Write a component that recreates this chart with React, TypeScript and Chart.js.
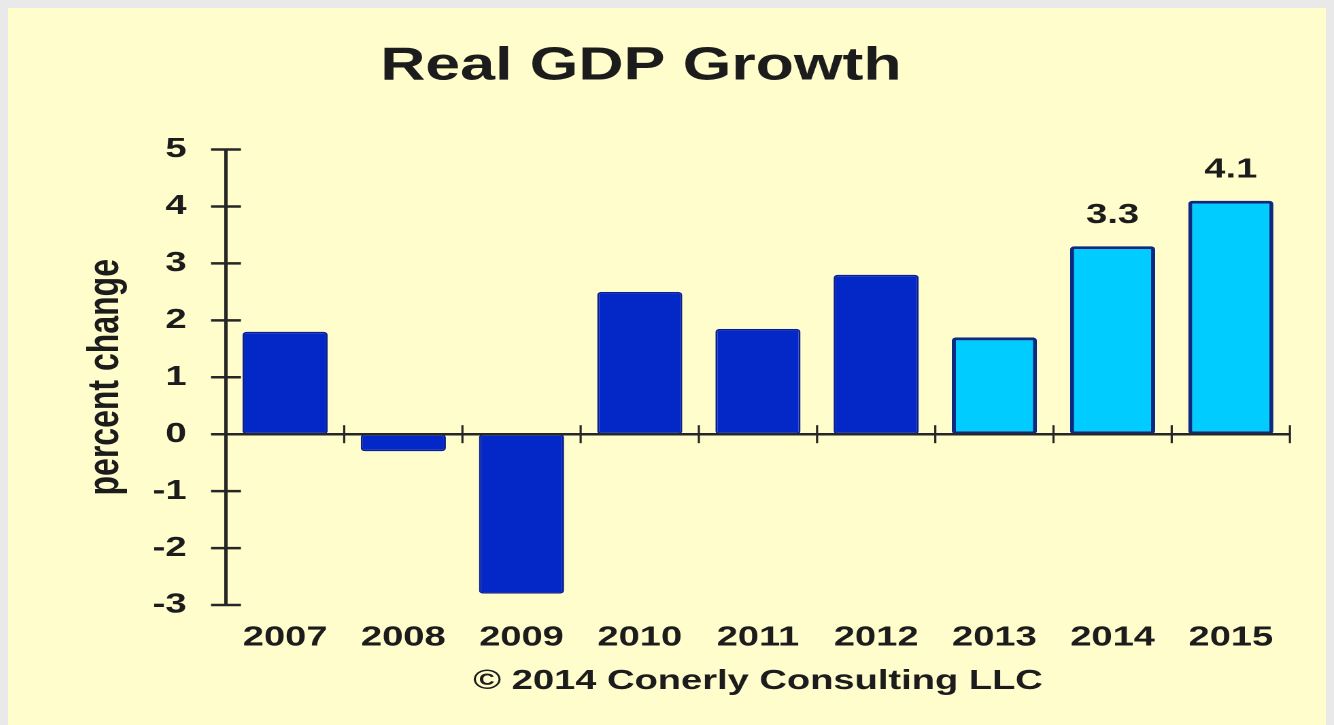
import { useEffect, useRef } from 'react';
import { Chart, registerables } from 'chart.js';

Chart.register(...registerables);

// ---- data ----
const years = ['2007', '2008', '2009', '2010', '2011', '2012', '2013', '2014', '2015'];
const growth = [1.8, -0.3, -2.8, 2.5, 1.85, 2.8, 1.7, 3.3, 4.1];
const forecastYears = ['2013', '2014', '2015'];
const valueLabels = ['', '', '', '', '', '', '', '3.3', '4.1'];
const yMin = -3;
const yMax = 5;
const titleText = 'Real GDP Growth';
const yTitleText = 'percent change';
const creditText = '© 2014 Conerly Consulting LLC';

// ---- styles ----
const FONT = '"Liberation Sans", Arial, Helvetica, sans-serif';
const TEXT = '#1c1c1c';
const AXIS = '#262626';
const BG = '#FFFDCC';
const HIST_FILL = '#0428C8';
const HIST_BORDER = '#0A1E90';
const FC_FILL = '#00CCFF';
const FC_BORDER = '#0B2A82';

// logical canvas width is stretched horizontally to the page width
const LOGICAL_W = 975;
const H = 717;
const PAGE_W = 1326;

const crossTicks = {
  id: 'crossTicks',
  afterDraw(chart: any) {
    const { ctx, chartArea, scales } = chart;
    const y = scales.y;
    const x = scales.x;
    ctx.save();
    ctx.strokeStyle = AXIS;
    // y-axis ticks crossing the axis
    ctx.lineWidth = 2.5;
    y.ticks.forEach((t: any) => {
      const py = y.getPixelForValue(t.value);
      ctx.beginPath();
      ctx.moveTo(chartArea.left - 11, py);
      ctx.lineTo(chartArea.left + 11, py);
      ctx.stroke();
    });
    // category boundary ticks crossing the zero line
    const y0 = y.getPixelForValue(0);
    ctx.lineWidth = 1.6;
    for (let i = 1; i <= years.length; i++) {
      const px = x.getPixelForValue(i - 0.5);
      ctx.beginPath();
      ctx.moveTo(px, y0 - 9);
      ctx.lineTo(px, y0 + 9);
      ctx.stroke();
    }
    ctx.restore();
  },
};

const barValueLabels = {
  id: 'barValueLabels',
  afterDatasetsDraw(chart: any) {
    const { ctx } = chart;
    const meta = chart.getDatasetMeta(0);
    ctx.save();
    ctx.fillStyle = TEXT;
    ctx.font = `bold 28px ${FONT}`;
    ctx.textAlign = 'center';
    ctx.textBaseline = 'middle';
    meta.data.forEach((bar: any, i: number) => {
      const label = valueLabels[i];
      if (!label) return;
      ctx.fillText(label, bar.x, bar.y - 31);
    });
    ctx.restore();
  },
};

export default function App() {
  const ref = useRef<HTMLCanvasElement | null>(null);

  useEffect(() => {
    document.body.style.overflow = 'hidden';
    document.body.style.background = '#e9e9e9';
    if (!ref.current) return;
    const isForecast = years.map((yr) => forecastYears.includes(yr));
    const chart = new Chart(ref.current, {
      type: 'bar',
      data: {
        labels: years,
        datasets: [
          {
            data: growth,
            backgroundColor: isForecast.map((f) => (f ? FC_FILL : HIST_FILL)),
            borderColor: isForecast.map((f) => (f ? FC_BORDER : HIST_BORDER)),
            borderWidth: isForecast.map((f) => (f ? 3 : 1.5)),
            borderSkipped: false,
            borderRadius: 3,
            barPercentage: 0.72,
            categoryPercentage: 1,
          },
        ],
      },
      options: {
        animation: false,
        responsive: false,
        devicePixelRatio: 2,
        layout: { padding: { left: -11.8, right: 32.4, top: 0, bottom: 0 } },
        plugins: {
          legend: { display: false },
          tooltip: { enabled: false },
          title: {
            display: true,
            text: titleText,
            color: TEXT,
            font: { family: FONT, size: 46, weight: 'bold' },
            padding: { top: 31, bottom: 55.3 },
          },
        },
        scales: {
          x: {
            type: 'category',
            position: 'bottom',
            offset: true,
            grid: { display: false, drawTicks: false, offset: true },
            border: { display: false },
            ticks: {
              color: TEXT,
              font: { family: FONT, size: 28, weight: 'bold' },
              padding: 16,
              maxRotation: 0,
              autoSkip: false,
            },
            title: {
              display: true,
              text: creditText,
              color: TEXT,
              font: { family: FONT, size: 28, weight: 'bold' },
              padding: { top: 0, bottom: 27 },
            },
            afterFit(scale: any) {
              scale.height = 120;
            },
          },
          x2: {
            type: 'category',
            position: { y: 0 },
            offset: true,
            grid: { display: false, drawTicks: false, offset: true },
            border: { display: true, color: AXIS, width: 2.5, z: 1 },
            ticks: { display: false },
          },
          y: {
            type: 'linear',
            position: 'left',
            min: yMin,
            max: yMax,
            ticks: {
              stepSize: 1,
              color: TEXT,
              font: { family: FONT, size: 28, weight: 'bold' },
              padding: 29,
            },
            grid: { display: false, drawTicks: false },
            border: { display: true, color: AXIS, width: 2.5, z: 1 },
            title: {
              display: true,
              text: yTitleText,
              color: TEXT,
              font: { family: FONT, size: 32, weight: 'bold' },
              padding: { top: 64.8, bottom: 0 },
            },
            afterFit(scale: any) {
              scale.width = 172.1;
            },
          },
        },
      },
      plugins: [crossTicks, barValueLabels],
    } as any);
    return () => chart.destroy();
  }, []);

  return (
    <canvas
      ref={ref}
      width={LOGICAL_W}
      height={H}
      style={{ display: 'block', width: `${PAGE_W}px`, height: `${H}px`, backgroundColor: BG }}
    />
  );
}
